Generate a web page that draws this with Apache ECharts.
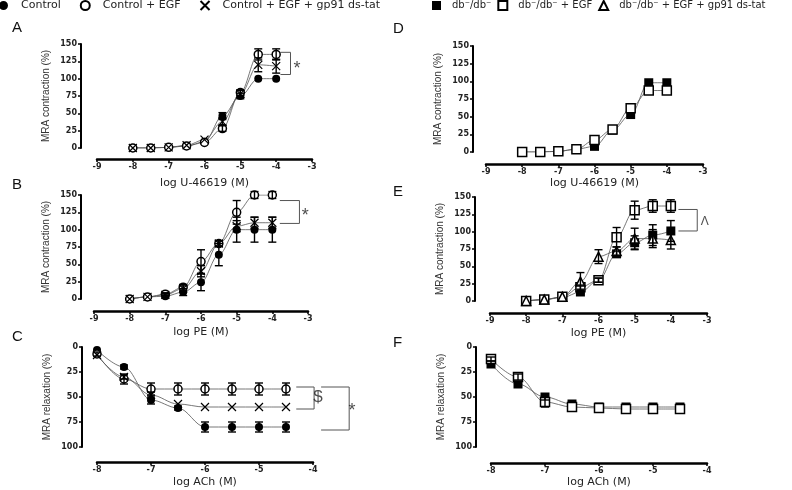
<!DOCTYPE html>
<html><head><meta charset="utf-8">
<script src="https://cdn.jsdelivr.net/npm/echarts@6/dist/echarts.min.js"></script>
<style>html,body{margin:0;padding:0;background:#fff}#c{width:792px;height:490px}</style>
</head><body><div id="c"></div>
<script>
// ---------- data ----------
const xDose = [-8,-7.5,-7,-6.5,-6,-5.5,-5,-4.5,-4];
const xACh  = [-8,-7.5,-7,-6.5,-6,-5.5,-5,-4.5];

// Panel A (U-46619, control mice)
const A_ctrl = [0,0,1,3,9,46,75,100,100];
const A_ctrlErr = [0,0,0,0,0,5,4,0,0];
const A_egf = [0,0,1,3,8,28,80,135,135];
const A_egfErr = [0,0,0,0,0,4,4,8,8];
const A_gp = [0,0,1,4,12,38,78,120,118];
const A_gpErr = [0,0,0,0,0,5,5,10,10];

// Panel B (PE, control mice)
const B_ctrl = [0,3,4,10,24,64,100,100,100];
const B_ctrlErr = [0,0,2,5,12,16,18,18,18];
const B_egf = [0,3,7,17,54,80,125,150,150];
const B_egfErr = [0,0,2,4,17,4,17,5,5];
const B_gp = [0,3,6,15,40,80,105,110,110];
const B_gpErr = [0,0,2,4,8,4,8,8,8];

// Panel C (ACh, control mice)
const C_ctrl = [3,20,53,61,80,80,80,80];
const C_ctrlErr = [0,2,4,2,5,5,5,5];
const C_egf = [7,32,42,42,42,42,42,42];
const C_egfErr = [2,5,6,6,6,6,6,6];
const C_gp = [8,30,48,57,60,60,60,60];
const C_gpErr = [0,2,3,0,0,0,0,0];

// Panel D (U-46619, db/db)
const D_db = [0,0,1,4,8,31,53,98,98];
const D_dbErr = [0,0,0,0,0,0,0,0,0];
const D_egf = [0,0,1,4,17,32,62,87,87];
const D_egfErr = [0,0,0,0,0,0,0,0,0];

// Panel E (PE, db/db)
const E_db = [0,2,5,13,30,68,84,95,101];
const E_dbErr = [0,0,0,2,3,4,10,15,15];
const E_egf = [0,2,6,20,30,92,131,137,137];
const E_egfErr = [0,0,0,3,3,14,13,9,9];
const E_gp = [0,2,6,28,64,72,90,90,88];
const E_gpErr = [0,0,0,13,10,6,15,13,13];

// Panel F (ACh, db/db)
const F_db = [17,37,50,57,60,60,60,60];
const F_dbErr = [3,3,3,0,0,0,0,0];
const F_egf = [12,30,55,60,61,62,62,62];
const F_egfErr = [2,3,5,0,0,0,0,0];

// tick settings
const contrTicks = {min:0, max:150, interval:25};
const relaxTicks = {min:0, max:100, interval:25};

// significance brackets (data coordinates)
const bracketA  = [[-3.88,138],[-3.6,138],[-3.6,106],[-3.88,106]];
const bracketB  = [[-3.79,142],[-3.24,142],[-3.24,109],[-3.79,109]];
const bracketC1 = [[-4.31,40],[-3.98,40],[-3.98,62],[-4.31,62]];
const bracketC2 = [[-3.85,40],[-3.33,40],[-3.33,83],[-3.85,83]];
const bracketE  = [[-3.79,132],[-3.27,132],[-3.27,101],[-3.79,101]];
const notes = [
  {grid:0, at:[-3.42,114], text:'*', size:18},
  {grid:1, at:[-3.08,120], text:'*', size:18},
  {grid:2, at:[-3.91,50], text:'$', size:17},
  {grid:2, at:[-3.28,64], text:'*', size:18},
  {grid:4, at:[-3.06,114], text:'\u039B', size:12}
];

const N_CTRL='Control', N_EGF='Control + EGF', N_GP='Control + EGF + gp91 ds-tat';
const N_DB='db\u207B/db\u207B', N_DBEGF='db\u207B/db\u207B + EGF', N_DBGP='db\u207B/db\u207B + EGF + gp91 ds-tat';

// ---------- styles ----------
const XPATH = 'path://M0,0L10,10M10,0L0,10';
const SYM = {
  ctrl:{symbol:'circle', size:8, itemStyle:{color:'#000'}},
  egf:{symbol:'circle', size:8, itemStyle:{color:'#fff', borderColor:'#000', borderWidth:1.5}},
  gp:{symbol:XPATH, size:8, itemStyle:{color:'#000', borderColor:'#000', borderWidth:1.2}},
  db:{symbol:'rect', size:9, itemStyle:{color:'#000'}},
  dbegf:{symbol:'rect', size:9, itemStyle:{color:'#fff', borderColor:'#000', borderWidth:1.5}},
  dbgp:{symbol:'triangle', size:9, itemStyle:{color:'#fff', borderColor:'#000', borderWidth:1.5}}
};
const FONT = 'DejaVu Sans';

const grids = [
  {left:97, top:44, width:215, height:104},
  {left:94, top:195, width:214, height:104},
  {left:97, top:347, width:216, height:100},
  {left:486, top:46, width:217, height:106},
  {left:490, top:197, width:217, height:104},
  {left:491, top:347, width:216, height:100}
];
const xCfg = [
  {min:-9,max:-3,name:'log U-46619 (M)',offset:11,gap:19},
  {min:-9,max:-3,name:'log PE (M)',offset:12,gap:16},
  {min:-8,max:-4,name:'log ACh (M)',offset:15,gap:15},
  {min:-9,max:-3,name:'log U-46619 (M)',offset:12,gap:14},
  {min:-9,max:-3,name:'log PE (M)',offset:12,gap:15},
  {min:-8,max:-4,name:'log ACh (M)',offset:16,gap:14}
];
const yCfg = [
  {t:contrTicks, name:'MRA contraction (%)', offset:16, inv:false},
  {t:contrTicks, name:'MRA contraction (%)', offset:13, inv:false},
  {t:relaxTicks, name:'MRA relaxation (%)', offset:15, inv:true},
  {t:contrTicks, name:'MRA contraction (%)', offset:13, inv:false},
  {t:contrTicks, name:'MRA contraction (%)', offset:15, inv:false},
  {t:relaxTicks, name:'MRA relaxation (%)', offset:15, inv:true}
];

const xAxes = xCfg.map((c,i)=>({
  type:'value', gridIndex:i, min:c.min, max:c.max, interval:1, offset:c.offset,
  name:c.name, nameLocation:'middle', nameGap:c.gap,
  nameTextStyle:{fontFamily:FONT, fontSize:11, color:'#222'},
  axisLine:{show:true, onZero:false, lineStyle:{color:'#000', width:2.5}},
  axisTick:{show:true, length:3, lineStyle:{color:'#000', width:1.5}},
  axisLabel:{fontFamily:FONT, fontSize:8, fontWeight:'bold', color:'#222', margin:4},
  splitLine:{show:false}
}));
const yAxes = yCfg.map((c,i)=>({
  type:'value', gridIndex:i, min:c.t.min, max:c.t.max, interval:c.t.interval, inverse:c.inv, offset:c.offset,
  name:c.name, nameLocation:'middle', nameGap:30,
  nameTextStyle:{fontFamily:'Liberation Sans', fontSize:10, color:'#333'},
  axisLine:{show:true, onZero:false, lineStyle:{color:'#000', width:2}},
  axisTick:{show:true, length:3, lineStyle:{color:'#000', width:1.5}},
  axisLabel:{fontFamily:FONT, fontSize:8, fontWeight:'bold', color:'#222', margin:4},
  splitLine:{show:false}
}));

function curve(name, xs, ys, g, s){
  return {type:'line', name, xAxisIndex:g, yAxisIndex:g, data:xs.map((x,i)=>[x,ys[i]]),
    smooth:0.35, smoothMonotone:'x', symbol:s.symbol, symbolSize:s.size, showSymbol:true,
    itemStyle:s.itemStyle, lineStyle:{color:'#555', width:0.8}, z:3, silent:true};
}
function errRender(params, api){
  const x = api.value(0), lo = api.value(1), hi = api.value(2);
  const p1 = api.coord([x,hi]), p2 = api.coord([x,lo]);
  const w = 4, st = {stroke:'#000', lineWidth:1.4};
  return {type:'group', children:[
    {type:'line', shape:{x1:p1[0],y1:p1[1],x2:p2[0],y2:p2[1]}, style:st},
    {type:'line', shape:{x1:p1[0]-w,y1:p1[1],x2:p1[0]+w,y2:p1[1]}, style:st},
    {type:'line', shape:{x1:p2[0]-w,y1:p2[1],x2:p2[0]+w,y2:p2[1]}, style:st}
  ]};
}
function errs(xs, ys, es, g){
  return {type:'custom', xAxisIndex:g, yAxisIndex:g, renderItem:errRender, silent:true, z:5,
    encode:{x:0, y:[1,2]},
    data:xs.map((x,i)=>[x, ys[i]-es[i], ys[i]+es[i]]).filter(d=>d[2]-d[1]>0)};
}
function bracketRender(params, api){
  const a = api.coord([api.value(0), api.value(1)]);
  const b = api.coord([api.value(2), api.value(3)]);
  return {type:'line', shape:{x1:a[0],y1:a[1],x2:b[0],y2:b[1]}, style:{stroke:'#555', lineWidth:1}};
}
function bracket(pts, g){
  const segs = [];
  for (let i=0;i<pts.length-1;i++) segs.push([pts[i][0],pts[i][1],pts[i+1][0],pts[i+1][1]]);
  return {type:'custom', xAxisIndex:g, yAxisIndex:g, renderItem:bracketRender, clip:false, silent:true, z:2,
    encode:{x:[0,2], y:[1,3]}, data:segs};
}

const series = [
  // A
  curve(N_CTRL, xDose, A_ctrl, 0, SYM.ctrl), errs(xDose, A_ctrl, A_ctrlErr, 0),
  curve(N_EGF, xDose, A_egf, 0, SYM.egf), errs(xDose, A_egf, A_egfErr, 0),
  curve(N_GP, xDose, A_gp, 0, SYM.gp), errs(xDose, A_gp, A_gpErr, 0),
  bracket(bracketA, 0),
  // B
  curve(N_CTRL, xDose, B_ctrl, 1, SYM.ctrl), errs(xDose, B_ctrl, B_ctrlErr, 1),
  curve(N_EGF, xDose, B_egf, 1, SYM.egf), errs(xDose, B_egf, B_egfErr, 1),
  curve(N_GP, xDose, B_gp, 1, SYM.gp), errs(xDose, B_gp, B_gpErr, 1),
  bracket(bracketB, 1),
  // C
  curve(N_CTRL, xACh, C_ctrl, 2, SYM.ctrl), errs(xACh, C_ctrl, C_ctrlErr, 2),
  curve(N_EGF, xACh, C_egf, 2, SYM.egf), errs(xACh, C_egf, C_egfErr, 2),
  curve(N_GP, xACh, C_gp, 2, SYM.gp), errs(xACh, C_gp, C_gpErr, 2),
  bracket(bracketC1, 2), bracket(bracketC2, 2),
  // D
  curve(N_DB, xDose, D_db, 3, SYM.db), errs(xDose, D_db, D_dbErr, 3),
  curve(N_DBEGF, xDose, D_egf, 3, SYM.dbegf), errs(xDose, D_egf, D_egfErr, 3),
  // E
  curve(N_DB, xDose, E_db, 4, SYM.db), errs(xDose, E_db, E_dbErr, 4),
  curve(N_DBEGF, xDose, E_egf, 4, SYM.dbegf), errs(xDose, E_egf, E_egfErr, 4),
  curve(N_DBGP, xDose, E_gp, 4, SYM.dbgp), errs(xDose, E_gp, E_gpErr, 4),
  bracket(bracketE, 4),
  // F
  curve(N_DB, xACh, F_db, 5, SYM.db), errs(xACh, F_db, F_dbErr, 5),
  curve(N_DBEGF, xACh, F_egf, 5, SYM.dbegf), errs(xACh, F_egf, F_egfErr, 5)
];
notes.forEach((n,k)=>{
  series.push({type:'scatter', name:'_note'+k, xAxisIndex:n.grid, yAxisIndex:n.grid, data:[n.at],
    symbolSize:1, itemStyle:{color:'rgba(0,0,0,0)'}, clip:false, silent:true, z:6,
    label:{show:true, position:'inside', formatter:n.text, fontFamily:'Liberation Sans', fontSize:n.size, color:'#222'}});
});

const letters = [['A',12,20],['B',12,177],['C',12,329],['D',393,21],['E',393,184],['F',393,335]];
const titles = letters.map(l=>({text:l[0], left:l[1], top:l[2], padding:0,
  textStyle:{fontFamily:'Liberation Sans', fontSize:15, fontWeight:'normal', color:'#111'}}));

const legendTextL = {fontFamily:FONT, fontSize:11, color:'#222', padding:[0,0,0,8]};
const legendTextR = {fontFamily:FONT, fontSize:10, color:'#222', padding:[0,0,0,6]};
const option = {
  animation:false,
  backgroundColor:'#fff',
  title:titles,
  grid:grids,
  xAxis:xAxes,
  yAxis:yAxes,
  legend:[
    {left:-1, top:0, padding:0, width:420, itemWidth:9, itemHeight:9, itemGap:19, textStyle:legendTextL, selectedMode:false,
     data:[{name:N_CTRL, icon:'circle'},{name:N_EGF, icon:'circle'},{name:N_GP, icon:XPATH}]},
    {left:432, top:0, padding:0, width:400, itemWidth:9, itemHeight:9, itemGap:6, textStyle:legendTextR, selectedMode:false,
     data:[{name:N_DB, icon:'rect'},{name:N_DBEGF, icon:'rect'},{name:N_DBGP, icon:'triangle'}]}
  ],
  series
};
const chart = echarts.init(document.getElementById('c'), null, {renderer:'canvas'});
chart.setOption(option);
</script>
</body></html>
